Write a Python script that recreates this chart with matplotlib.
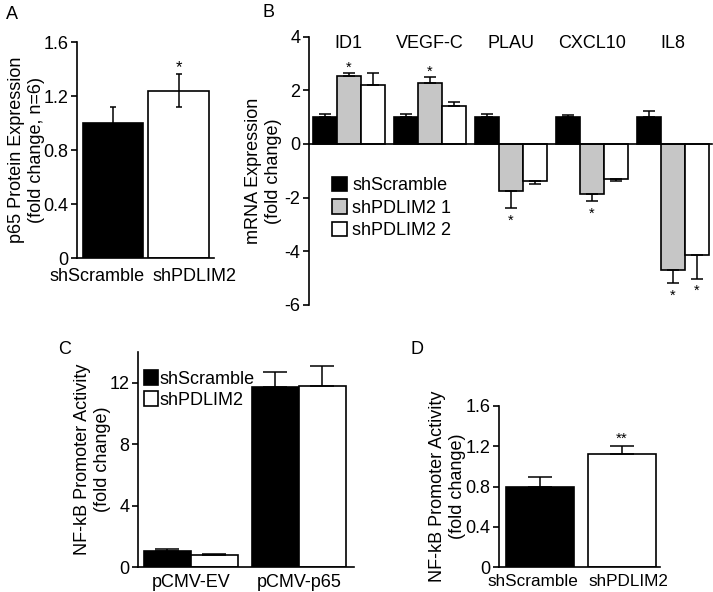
import matplotlib
matplotlib.use("Agg")
import matplotlib.pyplot as plt
import numpy as np
from matplotlib.patches import Patch

plt.rcParams['font.family'] = ['Liberation Sans', 'DejaVu Sans']
plt.rcParams['font.size'] = 13
plt.rcParams['axes.unicode_minus'] = False

# Panel A
a_labels = ['shScramble', 'shPDLIM2']
a_vals = [1.00, 1.24]
a_err = [0.12, 0.12]

# Panel B
b_genes = ['ID1', 'VEGF-C', 'PLAU', 'CXCL10', 'IL8']
b_series = ['shScramble', 'shPDLIM2 1', 'shPDLIM2 2']
b_scramble = [1.0, 1.0, 1.0, 1.0, 1.0]
b_scramble_err = [0.12, 0.12, 0.12, 0.07, 0.24]
b_sh1 = [2.52, 2.28, -1.76, -1.85, -4.71]
b_sh1_err = [0.13, 0.22, 0.63, 0.28, 0.48]
b_sh2 = [2.20, 1.43, -1.37, -1.32, -4.14]
b_sh2_err = [0.46, 0.13, 0.11, 0.05, 0.88]
b_sh1_sig = [True, True, True, True, True]
b_sh2_sig = [False, False, False, False, True]

# Panel C
c_groups = ['pCMV-EV', 'pCMV-p65']
c_scramble = [1.02, 11.72]
c_scramble_err = [0.18, 0.98]
c_pdlim2 = [0.76, 11.78]
c_pdlim2_err = [0.09, 1.32]

# Panel D
d_labels = ['shScramble', 'shPDLIM2']
d_vals = [0.80, 1.12]
d_err = [0.09, 0.085]

colors = ['black', '#c6c6c6', 'white']
lw = 1.2

fig = plt.figure(figsize=(7.13, 5.92), dpi=100)


def style(ax):
    for s in ['top', 'right']:
        ax.spines[s].set_visible(False)
    for s in ['left', 'bottom']:
        ax.spines[s].set_linewidth(1.2)
    ax.tick_params(axis='y', direction='out', length=4, width=1.2, pad=2)
    ax.tick_params(axis='x', length=0, pad=5)


def fmt(v):
    return '0' if v == 0 else ('%g' % v)


# ---------- A ----------
axA = fig.add_axes([0.108, 0.564, 0.192, 0.365])
xa = np.arange(len(a_vals))
axA.bar(xa, a_vals, width=0.93, color=['black', 'white'], edgecolor='black', linewidth=lw)
axA.errorbar(xa, a_vals, yerr=a_err, fmt='none', ecolor='black', elinewidth=1.1, capsize=2.5, capthick=1.1)
axA.annotate('*', (xa[1], a_vals[1] + a_err[1]), xytext=(0, 5), textcoords='offset points',
             ha='center', va='center', fontsize=12)
axA.set_xlim(-0.55, 1.54)
axA.set_ylim(0, 1.6)
a_ticks = [0, 0.4, 0.8, 1.2, 1.6]
axA.set_yticks(a_ticks)
axA.set_yticklabels([fmt(t) for t in a_ticks])
axA.set_xticks([xa[0] - 0.24, xa[1] + 0.24])
axA.set_xticklabels(a_labels)
axA.set_ylabel('p65 Protein Expression\n(fold change, n=6)', labelpad=-1)
style(axA)
axA.tick_params(axis='x', pad=7)

# ---------- B ----------
axB = fig.add_axes([0.433, 0.485, 0.565, 0.453])
xb = np.arange(len(b_genes))
w = 0.296
data = [(b_scramble, b_scramble_err), (b_sh1, b_sh1_err), (b_sh2, b_sh2_err)]
for i, (vals, errs) in enumerate(data):
    xs = xb + (i - 1) * w
    vals = np.array(vals)
    errs = np.array(errs)
    axB.bar(xs, vals, width=w, color=colors[i], edgecolor='black', linewidth=lw, label=b_series[i])
    lower = np.where(vals < 0, errs, 0)
    upper = np.where(vals >= 0, errs, 0)
    axB.errorbar(xs, vals, yerr=[lower, upper], fmt='none', ecolor='black',
                 elinewidth=1.1, capsize=4.5, capthick=1.1)
for i, (vals, errs, sig) in enumerate([(b_sh1, b_sh1_err, b_sh1_sig), (b_sh2, b_sh2_err, b_sh2_sig)]):
    for j in range(len(b_genes)):
        if not sig[j]:
            continue
        x = xb[j] + i * w
        if vals[j] >= 0:
            axB.annotate('*', (x, vals[j] + errs[j]), xytext=(0, 4), textcoords='offset points',
                         ha='center', va='center', fontsize=10.5)
        else:
            axB.annotate('*', (x, vals[j] - errs[j]), xytext=(0, -9), textcoords='offset points',
                         ha='center', va='center', fontsize=10.5)
for j, g in enumerate(b_genes):
    axB.text(xb[j], 3.75, g, ha='center', va='center', fontsize=13)
axB.set_xlim(-0.494, 4.48)
axB.set_ylim(-6, 4)
axB.set_yticks([4, 2, 0, -2, -4, -6])
axB.spines['bottom'].set_position(('data', 0))
axB.set_xticks([])
axB.set_ylabel('mRNA Expression\n(fold change)', labelpad=2)
style(axB)
handles = [Patch(facecolor=colors[i], edgecolor='black', linewidth=lw, label=b_series[i]) for i in range(3)]
axB.legend(handles=handles, loc='upper left', bbox_to_anchor=(0.057, 0.478), frameon=False,
           borderpad=0, borderaxespad=0, handlelength=0.85, handleheight=0.85,
           handletextpad=0.3, labelspacing=0.28, fontsize=13)

# ---------- C ----------
axC = fig.add_axes([0.1935, 0.0422, 0.303, 0.363])
xc = np.arange(len(c_groups))
wc = 0.435
axC.bar(xc - wc / 2, c_scramble, width=wc, color='black', edgecolor='black', linewidth=lw, label='shScramble')
axC.bar(xc + wc / 2, c_pdlim2, width=wc, color='white', edgecolor='black', linewidth=lw, label='shPDLIM2')
axC.errorbar(xc - wc / 2, c_scramble, yerr=[np.zeros(2), c_scramble_err], fmt='none', ecolor='black',
             elinewidth=1.1, capsize=8.5, capthick=1.1)
axC.errorbar(xc + wc / 2, c_pdlim2, yerr=[np.zeros(2), c_pdlim2_err], fmt='none', ecolor='black',
             elinewidth=1.1, capsize=8.5, capthick=1.1)
axC.set_xlim(-0.49, 1.51)
axC.set_ylim(0, 14)
axC.set_yticks([0, 4, 8, 12])
axC.set_xticks(xc)
axC.set_xticklabels(c_groups)
axC.set_ylabel('NF-kB Promoter Activity\n(fold change)', labelpad=-1)
style(axC)
axC.legend(loc='upper left', bbox_to_anchor=(0.028, 0.916), frameon=False, borderpad=0,
           borderaxespad=0, handlelength=0.8, handleheight=0.85, handletextpad=0.05,
           labelspacing=0.2, fontsize=13)

# ---------- D ----------
axD = fig.add_axes([0.6999, 0.0422, 0.226, 0.272])
xd = np.arange(len(d_vals))
axD.bar(xd, d_vals, width=0.834, color=['black', 'white'], edgecolor='black', linewidth=lw)
axD.errorbar(xd, d_vals, yerr=[np.zeros(2), d_err], fmt='none', ecolor='black',
             elinewidth=1.1, capsize=8.3, capthick=1.1)
axD.annotate('**', (xd[1], d_vals[1] + d_err[1]), xytext=(0, 5), textcoords='offset points',
             ha='center', va='center', fontsize=11)
axD.set_xlim(-0.5, 1.47)
axD.set_ylim(0, 1.6)
d_ticks = [0, 0.4, 0.8, 1.2, 1.6]
axD.set_yticks(d_ticks)
axD.set_yticklabels([fmt(t) for t in d_ticks])
axD.set_xticks([xd[0] - 0.09, xd[1] + 0.08])
axD.set_xticklabels(d_labels, fontsize=12.3)
axD.set_ylabel('NF-kB Promoter Activity\n(fold change)', labelpad=0)
style(axD)

# panel letters
for letter, (x, y) in zip('ABCD', [(6, 6), (262, 4), (58, 341), (410, 341)]):
    fig.text(x / 713, 1 - y / 592, letter, ha='left', va='top', fontsize=13)

fig.savefig('out.png', dpi=100)
